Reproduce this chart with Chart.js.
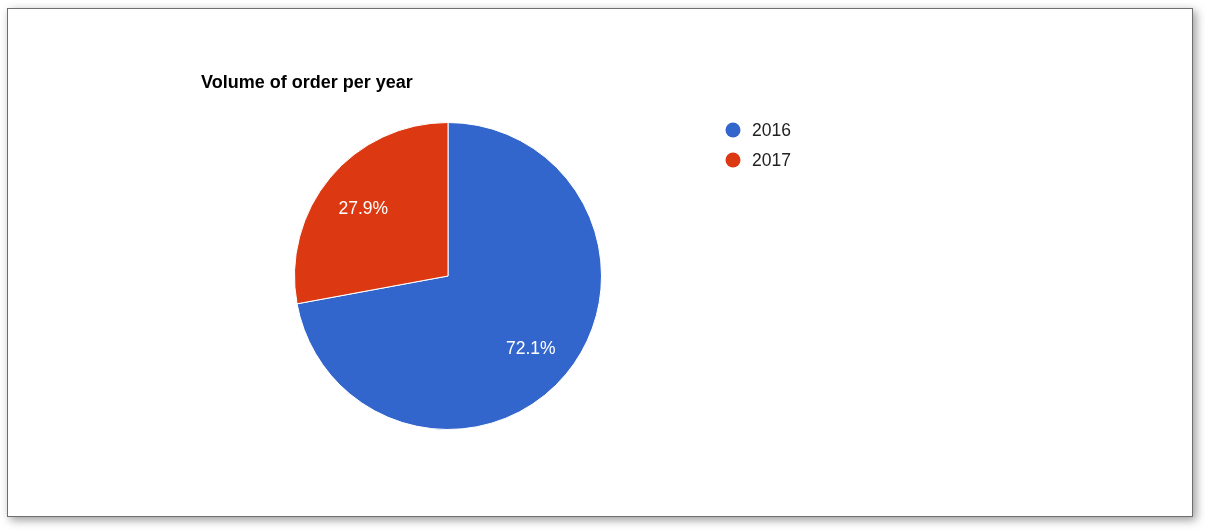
<!DOCTYPE html>
<html>
<head>
<meta charset="utf-8">
<script src="https://cdn.jsdelivr.net/npm/chart.js@4.4.0/dist/chart.umd.min.js"></script>
<style>
  html, body { margin: 0; padding: 0; background: #fff; }
  body { width: 1205px; height: 531px; position: relative; overflow: hidden; }
  #cartao {
    position: absolute; left: 7px; top: 8px; width: 1186px; height: 509px;
    box-sizing: border-box; border: 1px solid #6e6e6e; background: #fff;
    box-shadow: 3px 3px 9px rgba(0, 0, 0, 0.4);
  }
  #area { position: absolute; left: 0; top: 0; width: 1205px; height: 531px; }
</style>
</head>
<body>
<div id="cartao"></div>
<div id="area"><canvas id="graficoPizza"></canvas></div>
<script>
const anos = ["2016", "2017"];
const percentuais = [72.1, 27.9];
const cores = ["#3366cc", "#dc3912"];
const titulo = "Volume of order per year";

const fonte = "Arial, 'Liberation Sans', sans-serif";

// titulo, legenda e rotulos desenhados a mao, no estilo do Google Charts
const rotulos = {
  id: "rotulos",
  afterDraw(grafico) {
    const ctx = grafico.ctx;
    ctx.save();

    ctx.fillStyle = "#000";
    ctx.font = "bold 18px " + fonte;
    ctx.textAlign = "left";
    ctx.textBaseline = "middle";
    ctx.fillText(titulo, 201, 83);

    anos.forEach((ano, i) => {
      let y = 130 + i * 30;
      ctx.beginPath();
      ctx.arc(733, y, 7.5, 0, Math.PI * 2);
      ctx.fillStyle = cores[i];
      ctx.fill();
      ctx.fillStyle = "#222";
      ctx.font = "17.5px " + fonte;
      ctx.fillText(ano, 752, y + 1);
    });

    const arcos = grafico.getDatasetMeta(0).data;
    ctx.fillStyle = "#fff";
    ctx.font = "17.5px " + fonte;
    ctx.textAlign = "center";
    arcos.forEach((arco, i) => {
      let p = arco.getProps(["x", "y", "startAngle", "endAngle", "outerRadius"], true);
      let meio = (p.startAngle + p.endAngle) / 2;
      let r = p.outerRadius * 0.71;
      ctx.fillText(percentuais[i].toFixed(1) + "%", p.x + Math.cos(meio) * r - 1, p.y + Math.sin(meio) * r + 3);
    });

    ctx.restore();
  }
};

const graficoPizza = new Chart(document.getElementById("graficoPizza"), {
  type: "pie",
  data: {
    labels: anos,
    datasets: [{
      data: percentuais,
      backgroundColor: cores,
      borderColor: "#fff",
      borderWidth: 1
    }]
  },
  options: {
    responsive: true,
    maintainAspectRatio: false,
    animation: false,
    layout: { padding: { left: 294, right: 603, top: 122, bottom: 101 } },
    plugins: {
      legend: { display: false },
      tooltip: { enabled: false }
    }
  },
  plugins: [rotulos]
});
</script>
</body>
</html>
